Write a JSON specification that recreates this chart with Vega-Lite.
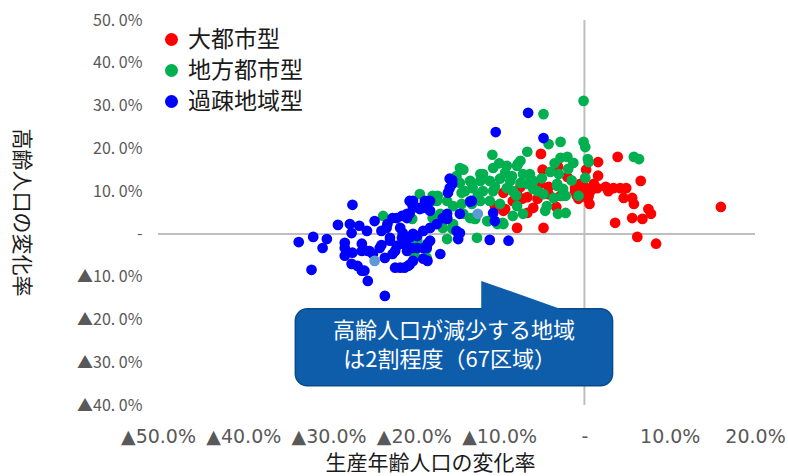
{
"$schema":"https://vega.github.io/schema/vega-lite/v6.json",
"width":597,"height":385,
"autosize":"none",
"padding":{"left":158,"top":20,"right":33,"bottom":71},
"background":"white",
"config":{"view":{"stroke":null},"font":"Noto Sans CJK JP"},
"datasets":{
"pts":[
{"x":-5.1,"y":18.7,"g":"大都市型"},{"x":-4.9,"y":15.0,"g":"大都市型"},{"x":-3.1,"y":15.7,"g":"大都市型"},{"x":-2.0,"y":13.3,"g":"大都市型"},{"x":-5.2,"y":11.7,"g":"大都市型"},{"x":-4.2,"y":11.0,"g":"大都市型"},{"x":-9.5,"y":9.6,"g":"大都市型"},{"x":-7.9,"y":9.3,"g":"大都市型"},{"x":-6.7,"y":8.6,"g":"大都市型"},{"x":-5.5,"y":8.2,"g":"大都市型"},{"x":-9.3,"y":5.8,"g":"大都市型"},{"x":-6.7,"y":4.9,"g":"大都市型"},{"x":-7.9,"y":1.4,"g":"大都市型"},{"x":-4.8,"y":1.4,"g":"大都市型"},{"x":-3.3,"y":6.3,"g":"大都市型"},{"x":-0.5,"y":11.7,"g":"大都市型"},{"x":0.2,"y":15.0,"g":"大都市型"},{"x":-0.1,"y":9.3,"g":"大都市型"},{"x":0.4,"y":8.2,"g":"大都市型"},{"x":0.6,"y":7.0,"g":"大都市型"},{"x":-0.7,"y":8.2,"g":"大都市型"},{"x":1.6,"y":16.8,"g":"大都市型"},{"x":3.9,"y":18.0,"g":"大都市型"},{"x":1.6,"y":13.6,"g":"大都市型"},{"x":1.5,"y":10.7,"g":"大都市型"},{"x":2.8,"y":10.0,"g":"大都市型"},{"x":3.4,"y":10.7,"g":"大都市型"},{"x":4.2,"y":10.7,"g":"大都市型"},{"x":4.9,"y":10.7,"g":"大都市型"},{"x":4.6,"y":8.4,"g":"大都市型"},{"x":5.6,"y":8.4,"g":"大都市型"},{"x":6.6,"y":12.4,"g":"大都市型"},{"x":5.8,"y":7.0,"g":"大都市型"},{"x":7.5,"y":5.8,"g":"大都市型"},{"x":7.8,"y":4.7,"g":"大都市型"},{"x":5.6,"y":3.7,"g":"大都市型"},{"x":6.8,"y":3.5,"g":"大都市型"},{"x":3.6,"y":2.6,"g":"大都市型"},{"x":6.2,"y":-0.7,"g":"大都市型"},{"x":8.4,"y":-2.3,"g":"大都市型"},{"x":16.0,"y":6.3,"g":"大都市型"},{"x":-6.0,"y":6.1,"g":"大都市型"},{"x":-4.2,"y":9.3,"g":"大都市型"},{"x":-7.3,"y":8.2,"g":"大都市型"},{"x":0,"y":11.0,"g":"大都市型"},{"x":0.7,"y":10.0,"g":"大都市型"},{"x":-1.1,"y":10.0,"g":"大都市型"},{"x":1.1,"y":11.7,"g":"大都市型"},{"x":2.5,"y":11.0,"g":"大都市型"},{"x":-2.8,"y":8.9,"g":"大都市型"},{"x":-7.5,"y":11.0,"g":"大都市型"},{"x":-8.4,"y":7.7,"g":"大都市型"},{"x":-10.5,"y":6.5,"g":"大都市型"},{"x":-9.5,"y":5.4,"g":"大都市型"},{"x":-0.9,"y":9.0,"g":"大都市型"},{"x":0.5,"y":8.9,"g":"大都市型"},{"x":-1.1,"y":10.7,"g":"大都市型"},
{"x":-0.1,"y":31.1,"g":"地方都市型"},{"x":-4.8,"y":28.0,"g":"地方都市型"},{"x":-2.8,"y":21.5,"g":"地方都市型"},{"x":-4.2,"y":21.0,"g":"地方都市型"},{"x":-0.1,"y":21.5,"g":"地方都市型"},{"x":0.1,"y":20.3,"g":"地方都市型"},{"x":-6.7,"y":19.2,"g":"地方都市型"},{"x":-10.8,"y":18.5,"g":"地方都市型"},{"x":-2.8,"y":17.8,"g":"地方都市型"},{"x":-2.0,"y":18.0,"g":"地方都市型"},{"x":0.4,"y":17.5,"g":"地方都市型"},{"x":0.5,"y":16.8,"g":"地方都市型"},{"x":-1.3,"y":16.6,"g":"地方都市型"},{"x":-1.9,"y":15.2,"g":"地方都市型"},{"x":5.8,"y":18.0,"g":"地方都市型"},{"x":6.4,"y":17.5,"g":"地方都市型"},{"x":0.1,"y":13.1,"g":"地方都市型"},{"x":-7.5,"y":17.1,"g":"地方都市型"},{"x":-7.9,"y":15.9,"g":"地方都市型"},{"x":-6.4,"y":14.0,"g":"地方都市型"},{"x":-9.1,"y":15.9,"g":"地方都市型"},{"x":-9.3,"y":14.3,"g":"地方都市型"},{"x":-10.7,"y":15.4,"g":"地方都市型"},{"x":-11.9,"y":14.0,"g":"地方都市型"},{"x":-14.6,"y":15.4,"g":"地方都市型"},{"x":-14.2,"y":15.0,"g":"地方都市型"},{"x":-13.4,"y":12.4,"g":"地方都市型"},{"x":-12.2,"y":12.4,"g":"地方都市型"},{"x":-11.1,"y":12.4,"g":"地方都市型"},{"x":-9.9,"y":12.9,"g":"地方都市型"},{"x":-8.7,"y":12.4,"g":"地方都市型"},{"x":-7.5,"y":11.9,"g":"地方都市型"},{"x":-14.6,"y":11.9,"g":"地方都市型"},{"x":-14.4,"y":9.6,"g":"地方都市型"},{"x":-13.1,"y":10.7,"g":"地方都市型"},{"x":-11.9,"y":10.0,"g":"地方都市型"},{"x":-10.7,"y":10.0,"g":"地方都市型"},{"x":-9.1,"y":10.7,"g":"地方都市型"},{"x":-8.4,"y":10.0,"g":"地方都市型"},{"x":-6.0,"y":12.4,"g":"地方都市型"},{"x":-5.5,"y":10.0,"g":"地方都市型"},{"x":-4.8,"y":9.3,"g":"地方都市型"},{"x":-3.2,"y":11.2,"g":"地方都市型"},{"x":-2.2,"y":8.9,"g":"地方都市型"},{"x":-0.7,"y":8.9,"g":"地方都市型"},{"x":-3.6,"y":8.4,"g":"地方都市型"},{"x":-4.4,"y":6.5,"g":"地方都市型"},{"x":-3.1,"y":4.7,"g":"地方都市型"},{"x":-2.2,"y":4.9,"g":"地方都市型"},{"x":-7.9,"y":6.5,"g":"地方都市型"},{"x":-8.4,"y":4.2,"g":"地方都市型"},{"x":-7.2,"y":4.7,"g":"地方都市型"},{"x":-12.2,"y":7.7,"g":"地方都市型"},{"x":-11.1,"y":7.7,"g":"地方都市型"},{"x":-9.9,"y":7.0,"g":"地方都市型"},{"x":-13.4,"y":7.7,"g":"地方都市型"},{"x":-14.2,"y":4.7,"g":"地方都市型"},{"x":-13.1,"y":3.7,"g":"地方都市型"},{"x":-11.4,"y":3.0,"g":"地方都市型"},{"x":-10.2,"y":2.3,"g":"地方都市型"},{"x":-9.5,"y":2.3,"g":"地方都市型"},{"x":-12.6,"y":-0.9,"g":"地方都市型"},{"x":-15.4,"y":6.5,"g":"地方都市型"},{"x":-16.1,"y":7.7,"g":"地方都市型"},{"x":-17.2,"y":8.9,"g":"地方都市型"},{"x":-17.8,"y":7.7,"g":"地方都市型"},{"x":-19.3,"y":9.3,"g":"地方都市型"},{"x":-16.6,"y":1.4,"g":"地方都市型"},{"x":-16.1,"y":-1.2,"g":"地方都市型"},{"x":-18.5,"y":-3.5,"g":"地方都市型"},{"x":-23.6,"y":4.2,"g":"地方都市型"},{"x":-16.9,"y":4.7,"g":"地方都市型"},{"x":-15.4,"y":2.3,"g":"地方都市型"},{"x":-14.0,"y":10.0,"g":"地方都市型"},{"x":-13.2,"y":7.0,"g":"地方都市型"},{"x":-12.8,"y":3.5,"g":"地方都市型"},{"x":-9.6,"y":2.6,"g":"地方都市型"},{"x":-17.8,"y":3.7,"g":"地方都市型"},{"x":-19.6,"y":-1.6,"g":"地方都市型"},{"x":-18.5,"y":-5.6,"g":"地方都市型"},{"x":-17.3,"y":7.7,"g":"地方都市型"},{"x":-15.5,"y":1.2,"g":"地方都市型"},{"x":-14.4,"y":7.0,"g":"地方都市型"},{"x":-13.4,"y":3.7,"g":"地方都市型"},{"x":-11.3,"y":3.0,"g":"地方都市型"},{"x":-20.2,"y":3.5,"g":"地方都市型"},{"x":-19.9,"y":-5.1,"g":"地方都市型"},{"x":-13.2,"y":11.9,"g":"地方都市型"},{"x":-12.2,"y":14.0,"g":"地方都市型"},{"x":-17.8,"y":8.9,"g":"地方都市型"},{"x":-7.8,"y":16.4,"g":"地方都市型"},{"x":-10.0,"y":16.5,"g":"地方都市型"},{"x":-8.5,"y":13.5,"g":"地方都市型"},{"x":-6.5,"y":12.0,"g":"地方都市型"},{"x":-5.0,"y":13.0,"g":"地方都市型"},{"x":-4.0,"y":14.5,"g":"地方都市型"},{"x":-3.5,"y":16.5,"g":"地方都市型"},{"x":-3.0,"y":14.0,"g":"地方都市型"},{"x":-1.5,"y":12.5,"g":"地方都市型"},{"x":-2.5,"y":10.5,"g":"地方都市型"},{"x":-6.0,"y":10.5,"g":"地方都市型"},{"x":-8.0,"y":9.0,"g":"地方都市型"},{"x":-10.5,"y":11.0,"g":"地方都市型"},{"x":-12.5,"y":9.0,"g":"地方都市型"},{"x":-15.0,"y":13.5,"g":"地方都市型"},{"x":-3.2,"y":11.7,"g":"地方都市型"},{"x":-2.6,"y":8.9,"g":"地方都市型"},{"x":-4.6,"y":5.4,"g":"地方都市型"},{"x":-6.7,"y":11.7,"g":"地方都市型"},{"x":-7.2,"y":14.0,"g":"地方都市型"},
{"x":-6.6,"y":28.3,"g":"過疎地域型"},{"x":-10.4,"y":23.8,"g":"過疎地域型"},{"x":-4.8,"y":22.4,"g":"過疎地域型"},{"x":-15.5,"y":12.6,"g":"過疎地域型"},{"x":-15.8,"y":10.7,"g":"過疎地域型"},{"x":-13.4,"y":7.5,"g":"過疎地域型"},{"x":-14.6,"y":4.7,"g":"過疎地域型"},{"x":-16.1,"y":3.7,"g":"過疎地域型"},{"x":-10.5,"y":3.0,"g":"過疎地域型"},{"x":-11.1,"y":-1.4,"g":"過疎地域型"},{"x":-8.9,"y":-1.6,"g":"過疎地域型"},{"x":-16.9,"y":-4.7,"g":"過疎地域型"},{"x":-14.8,"y":0.2,"g":"過疎地域型"},{"x":-20.1,"y":7.7,"g":"過疎地域型"},{"x":-19.3,"y":6.1,"g":"過疎地域型"},{"x":-18.1,"y":7.7,"g":"過疎地域型"},{"x":-20.5,"y":4.7,"g":"過疎地域型"},{"x":-22.0,"y":3.7,"g":"過疎地域型"},{"x":-23.2,"y":1.4,"g":"過疎地域型"},{"x":-21.6,"y":1.4,"g":"過疎地域型"},{"x":-20.1,"y":0,"g":"過疎地域型"},{"x":-18.9,"y":0.7,"g":"過疎地域型"},{"x":-18.1,"y":-1.6,"g":"過疎地域型"},{"x":-19.6,"y":-3.3,"g":"過疎地域型"},{"x":-21.3,"y":-2.3,"g":"過疎地域型"},{"x":-22.8,"y":-0.9,"g":"過疎地域型"},{"x":-24.0,"y":-3.3,"g":"過疎地域型"},{"x":-22.5,"y":-4.7,"g":"過疎地域型"},{"x":-18.9,"y":-5.8,"g":"過疎地域型"},{"x":-33.5,"y":-1.9,"g":"過疎地域型"},{"x":-31.8,"y":-0.7,"g":"過疎地域型"},{"x":-30.2,"y":-1.2,"g":"過疎地域型"},{"x":-30.7,"y":-3.3,"g":"過疎地域型"},{"x":-32.0,"y":-8.4,"g":"過疎地域型"},{"x":-27.2,"y":6.8,"g":"過疎地域型"},{"x":-28.9,"y":2.1,"g":"過疎地域型"},{"x":-27.5,"y":2.3,"g":"過疎地域型"},{"x":-26.4,"y":1.9,"g":"過疎地域型"},{"x":-25.5,"y":0.7,"g":"過疎地域型"},{"x":-27.3,"y":0.2,"g":"過疎地域型"},{"x":-28.1,"y":-2.1,"g":"過疎地域型"},{"x":-28.1,"y":-5.1,"g":"過疎地域型"},{"x":-27.2,"y":-4.4,"g":"過疎地域型"},{"x":-26.1,"y":-4.0,"g":"過疎地域型"},{"x":-25.2,"y":-4.0,"g":"過疎地域型"},{"x":-27.3,"y":-7.0,"g":"過疎地域型"},{"x":-26.6,"y":-7.5,"g":"過疎地域型"},{"x":-25.8,"y":-8.6,"g":"過疎地域型"},{"x":-25.4,"y":-11.0,"g":"過疎地域型"},{"x":-23.4,"y":-14.5,"g":"過疎地域型"},{"x":-23.4,"y":-5.6,"g":"過疎地域型"},{"x":-24.6,"y":3.0,"g":"過疎地域型"},{"x":-23.8,"y":0.7,"g":"過疎地域型"},{"x":-23.1,"y":2.3,"g":"過疎地域型"},{"x":-22.5,"y":3.7,"g":"過疎地域型"},{"x":-21.4,"y":4.2,"g":"過疎地域型"},{"x":-20.8,"y":3.7,"g":"過疎地域型"},{"x":-22.8,"y":-1.6,"g":"過疎地域型"},{"x":-22.0,"y":-2.8,"g":"過疎地域型"},{"x":-21.4,"y":-0.9,"g":"過疎地域型"},{"x":-20.5,"y":-0.9,"g":"過疎地域型"},{"x":-19.6,"y":-0.5,"g":"過疎地域型"},{"x":-20.2,"y":7.2,"g":"過疎地域型"},{"x":-20.1,"y":6.1,"g":"過疎地域型"},{"x":-18.9,"y":6.1,"g":"過疎地域型"},{"x":-18.7,"y":7.7,"g":"過疎地域型"},{"x":-18.1,"y":5.4,"g":"過疎地域型"},{"x":-18.5,"y":-3.3,"g":"過疎地域型"},{"x":-18.4,"y":-2.3,"g":"過疎地域型"},{"x":-20.1,"y":-6.3,"g":"過疎地域型"},{"x":-20.7,"y":-7.5,"g":"過疎地域型"},{"x":-21.6,"y":-7.9,"g":"過疎地域型"},{"x":-22.2,"y":-7.9,"g":"過疎地域型"},{"x":-17.3,"y":2.3,"g":"過疎地域型"},{"x":-16.1,"y":3.5,"g":"過疎地域型"},{"x":-15.8,"y":12.9,"g":"過疎地域型"},{"x":-14.6,"y":0.2,"g":"過疎地域型"},{"x":-13.2,"y":7.7,"g":"過疎地域型"},{"x":-10.7,"y":4.9,"g":"過疎地域型"},{"x":-16.1,"y":4.7,"g":"過疎地域型"},{"x":-28.1,"y":-3.3,"g":"過疎地域型"},{"x":-26.1,"y":-2.3,"g":"過疎地域型"},{"x":-25.4,"y":-4.0,"g":"過疎地域型"},{"x":-24.8,"y":-4.7,"g":"過疎地域型"},{"x":-26.1,"y":-8.6,"g":"過疎地域型"},{"x":-22.2,"y":-4.0,"g":"過疎地域型"},{"x":-21.1,"y":-7.9,"g":"過疎地域型"},{"x":-20.5,"y":-7.2,"g":"過疎地域型"},{"x":-20.2,"y":-3.3,"g":"過疎地域型"},{"x":-20.8,"y":-2.8,"g":"過疎地域型"},{"x":-20.2,"y":7.0,"g":"過疎地域型"},{"x":-19.3,"y":5.8,"g":"過疎地域型"},{"x":-18.1,"y":1.4,"g":"過疎地域型"},{"x":-15.5,"y":11.7,"g":"過疎地域型"},{"x":-16.0,"y":9.6,"g":"過疎地域型"},{"x":-15.0,"y":0.7,"g":"過疎地域型"},{"x":-14.8,"y":-1.2,"g":"過疎地域型"},{"x":-20.8,"y":4.7,"g":"過疎地域型"},{"x":-21.3,"y":0.2,"g":"過疎地域型"},{"x":-20.8,"y":-4.0,"g":"過疎地域型"},{"x":-18.9,"y":-3.3,"g":"過疎地域型"},{"x":-18.4,"y":-6.3,"g":"過疎地域型"},{"x":-16.6,"y":3.7,"g":"過疎地域型"},{"x":-20.5,"y":7.7,"g":"過疎地域型"},{"x":-23.8,"y":-2.6,"g":"過疎地域型"}
],
"extra":[{"x":-24.6,"y":-6.3},{"x":-12.5,"y":4.7}],
"tri":[{"ax":-12.1,"ay":-11.0,"ay2":-18.3},{"ax":-2.7,"ay":-17.6,"ay2":-18.3}],
"note":[{"label":"高齢人口が減少する地域","tx":-15.3,"ty":-22.6},{"label":"は2割程度（67区域）","tx":-15.8,"ty":-29.5}]
},
"layer":[
{"data":{"name":"pts"},
 "mark":{"type":"circle","size":115,"opacity":0},
 "encoding":{
  "x":{"field":"x","type":"quantitative",
   "scale":{"domain":[-50,20],"nice":false,"zero":false},
   "axis":{"values":[-50,-40,-30,-20,-10,0,10,20],
    "labelExpr":"datum.value == 0 ? '-' : (datum.value < 0 ? '▲' : '') + format(abs(datum.value), '.1f') + '%'",
    "domain":false,"ticks":false,"grid":false,
    "labelFont":"DejaVu Sans","labelFontSize":19,"labelColor":"#595959","labelPadding":22,
    "labelFlush":false,"labelOverlap":false,
    "title":"生産年齢人口の変化率","titleFont":"Noto Sans CJK JP","titleFontSize":21,"titleFontWeight":"normal","titleColor":"#1a1a1a",
    "titleX":272,"titleY":58,"titleBaseline":"middle","titleAlign":"center"}},
  "y":{"field":"y","type":"quantitative",
   "scale":{"domain":[-40,50],"nice":false,"zero":false},
   "axis":{"values":[-40,-30,-20,-10,0,10,20,30,40,50],
    "labelExpr":"datum.value == 0 ? '-' : (datum.value < 0 ? '▲' : '') + replace(format(abs(datum.value), '.1f'), '.', '. ') + '%'",
    "domain":false,"ticks":false,"grid":false,
    "labelFont":"Noto Sans CJK JP","labelFontSize":16,"labelColor":"#595959","labelPadding":16,
    "labelOverlap":false,
    "title":"高齢人口の変化率","titleFont":"Noto Sans CJK JP","titleFontSize":21,"titleFontWeight":"normal","titleColor":"#1a1a1a",
    "titleAngle":90,"titleX":-138,"titleY":192,"titleBaseline":"middle","titleAlign":"center"}},
  "color":{"field":"g","type":"nominal",
   "scale":{"domain":["大都市型","地方都市型","過疎地域型"],"range":["#FF0000","#00B050","#0000FF"]},
   "legend":{"orient":"none","legendX":2,"legendY":8,"title":null,"symbolType":"circle","symbolSize":170,"symbolOpacity":1,"symbolStrokeWidth":0,
    "labelFontSize":23,"labelFont":"Noto Sans CJK JP","labelColor":"#1a1a1a","rowPadding":7,"labelOffset":5,"padding":0}}
 }},
{"data":{"values":[{}]},
 "mark":{"type":"rule","color":"#BFBFBF","strokeWidth":2},
 "encoding":{"x":{"datum":0},"y":{"datum":50},"y2":{"datum":-40}}},
{"data":{"values":[{}]},
 "mark":{"type":"rule","color":"#BFBFBF","strokeWidth":2},
 "encoding":{"y":{"datum":0},"x":{"datum":-50},"x2":{"datum":20}}},
{"data":{"name":"pts"},
 "mark":{"type":"circle","size":115,"opacity":1},
 "encoding":{"x":{"field":"x","type":"quantitative"},"y":{"field":"y","type":"quantitative"},
  "color":{"field":"g","type":"nominal"}}},
{"data":{"name":"extra"},
 "mark":{"type":"circle","size":115,"opacity":1,"color":"#5B9BD5"},
 "encoding":{"x":{"field":"x","type":"quantitative"},"y":{"field":"y","type":"quantitative"}}},
{"data":{"values":[{}]},
 "mark":{"type":"rect","fill":"#0E5DAB","stroke":"#0B4A8A","strokeWidth":1.5,"cornerRadius":12},
 "encoding":{"x":{"datum":-33.9},"x2":{"datum":3.3},"y":{"datum":-17.5},"y2":{"datum":-35.5}}},
{"data":{"name":"tri"},
 "mark":{"type":"area","color":"#0E5DAB","opacity":1},
 "encoding":{"x":{"field":"ax","type":"quantitative"},"y":{"field":"ay","type":"quantitative"},"y2":{"field":"ay2"}}},
{"data":{"name":"note"},
 "mark":{"type":"text","fontSize":22,"font":"Noto Sans CJK JP","color":"white","align":"center","baseline":"middle"},
 "encoding":{"x":{"field":"tx","type":"quantitative"},"y":{"field":"ty","type":"quantitative"},"text":{"field":"label"}}}
]
}
